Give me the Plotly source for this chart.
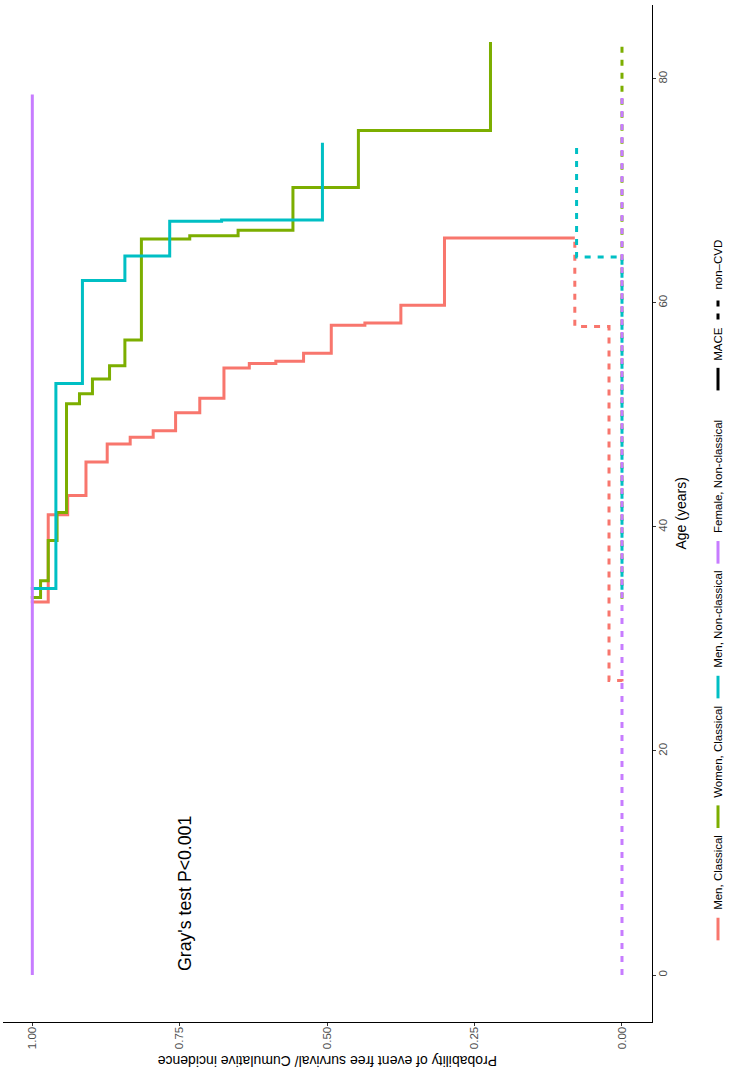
import plotly.graph_objects as go

# ---------------- data ----------------
# event-free survival (MACE, solid) and cumulative incidence (non-CVD, dashed)
men_cl_age = [33.2, 33.3, 41.1, 42.8, 45.8, 47.4, 48.0, 48.6, 50.2, 51.5, 54.2, 54.6, 54.8, 55.5, 58.0, 58.2, 59.8, 65.8]
men_cl_surv = [1.0, 0.973, 0.940, 0.909, 0.873, 0.834, 0.795, 0.757, 0.716, 0.675, 0.632, 0.587, 0.540, 0.493, 0.436, 0.375, 0.301, 0.080]
men_cl_nc_age = [26.2, 26.3, 57.9, 65.8]
men_cl_nc_inc = [0.0, 0.022, 0.080, 0.080]

women_cl_age = [33.6, 33.7, 35.2, 38.8, 41.3, 51.0, 51.9, 53.2, 54.4, 56.7, 65.7, 66.0, 66.5, 70.3, 75.4, 83.3]
women_cl_surv = [1.0, 0.986, 0.973, 0.958, 0.942, 0.920, 0.898, 0.869, 0.843, 0.815, 0.733, 0.651, 0.558, 0.447, 0.223, 0.223]
women_cl_nc_age = [33.6, 83.3]
women_cl_nc_inc = [0.0, 0.0]

men_ncl_age = [34.4, 34.5, 52.8, 62.0, 64.2, 67.3, 67.4, 74.3]
men_ncl_surv = [1.0, 0.960, 0.915, 0.843, 0.767, 0.679, 0.508, 0.508]
men_ncl_nc_age = [34.4, 64.1, 74.3]
men_ncl_nc_inc = [0.0, 0.077, 0.077]

fem_ncl_age = [0.0, 78.6]
fem_ncl_surv = [1.0, 1.0]
fem_ncl_nc_age = [0.0, 78.6]
fem_ncl_nc_inc = [0.0, 0.0]

group_names = ["Men, Classical", "Women, Classical", "Men, Non-classical", "Female, Non-classical"]
group_colors = ["#F8766D", "#7CAE00", "#00BFC4", "#C77CFF"]
type_names = ["MACE", "non\u2013CVD"]

age_ticks = [0, 20, 40, 60, 80]
prob_ticks = [0.0, 0.25, 0.5, 0.75, 1.0]
prob_labels = ["0.00", "0.25", "0.50", "0.75", "1.00"]

# ---------------- figure ----------------
W, H = 730, 1071
ML, MR, MT, MB = 3, 78, 5, 49
PW, PH = W - ML - MR, H - MT - MB

def px(x):
    return (x - ML) / PW

def py(y):
    return (H - MB - y) / PH

FONT = "Liberation Sans, Arial, Helvetica, sans-serif"
DASH = "6px,7px"

fig = go.Figure()
series = [
    (men_cl_age, men_cl_surv, men_cl_nc_age, men_cl_nc_inc),
    (women_cl_age, women_cl_surv, women_cl_nc_age, women_cl_nc_inc),
    (men_ncl_age, men_ncl_surv, men_ncl_nc_age, men_ncl_nc_inc),
    (fem_ncl_age, fem_ncl_surv, fem_ncl_nc_age, fem_ncl_nc_inc),
]
for (a, s, na, ni), name, col in zip(series, group_names, group_colors):
    fig.add_trace(go.Scatter(x=s, y=a, mode="lines", line=dict(color=col, width=3, shape="vh"),
                             name=name, showlegend=False))
    fig.add_trace(go.Scatter(x=ni, y=na, mode="lines",
                             line=dict(color=col, width=3, shape="vh", dash=DASH),
                             name=name + " non-CVD", showlegend=False))

fig.update_layout(
    width=W, height=H,
    margin=dict(l=ML, r=MR, t=MT, b=MB),
    paper_bgcolor="white", plot_bgcolor="white",
    font=dict(family=FONT, color="#4D4D4D", size=11.5),
    showlegend=False,
)
fig.update_xaxes(
    range=[1.0497, -0.0509], tickvals=prob_ticks, ticktext=prob_labels, tickangle=-90,
    showgrid=False, zeroline=False, showline=True, linecolor="black", linewidth=1.3,
    ticks="outside", ticklen=3, tickwidth=1, tickcolor="#333333", ticklabelstandoff=-4,
    tickfont=dict(size=11.5, color="#4D4D4D", family=FONT),
)
fig.update_yaxes(
    range=[-4.196, 86.6], tickvals=age_ticks, tickangle=-90, side="right",
    showgrid=False, zeroline=False, showline=True, linecolor="black", linewidth=1.3,
    ticks="outside", ticklen=3, tickwidth=1, tickcolor="#333333", ticklabelstandoff=-3,
    tickfont=dict(size=11.5, color="#4D4D4D", family=FONT),
)

ann = []
# axis titles (rotated like the picture)
ann.append(dict(text="Age (years)", x=px(680), y=py(513.5), xref="paper", yref="paper",
                showarrow=False, textangle=-90, xanchor="center", yanchor="middle",
                font=dict(size=14, color="black", family=FONT)))
ann.append(dict(text="Probability of event free survival/ Cumulative incidence",
                x=px(327.5), y=py(1061), xref="paper", yref="paper",
                showarrow=False, textangle=180, xanchor="center", yanchor="middle",
                font=dict(size=14, color="black", family=FONT)))
# Gray's test
ann.append(dict(text="Gray's test P<0.001", x=px(185), y=py(894), xref="paper", yref="paper",
                showarrow=False, textangle=-90, xanchor="center", yanchor="middle",
                font=dict(size=17.7, color="black", family=FONT)))

# manual legend (rotated)
LEG_X = 718
KEY = 22.6
G_KT = 7.5
G_IT = 7.5
G_GRP = 30
LFS = 11.5
em = {"Men, Classical": 6.501, "Women, Classical": 8.001, "Men, Non-classical": 8.446,
      "Female, Non-classical": 9.835, "MACE": 2.889, "non\u2013CVD": 4.335}
items = [(n, c, "solid") for n, c in zip(group_names, group_colors)] + \
        [(type_names[0], "black", "solid"), (type_names[1], "black", DASH)]
total = 0
for i, (n, c, d) in enumerate(items):
    total += KEY + G_KT + em[n] * LFS
    if i < len(items) - 1:
        total += G_GRP if i == 3 else G_IT
center = 590
y = center + total / 2
shapes = []
for i, (n, c, d) in enumerate(items):
    shapes.append(dict(type="line", xref="paper", yref="paper", x0=px(LEG_X), x1=px(LEG_X),
                       y0=py(y), y1=py(y - KEY), line=dict(color=c, width=3, dash=d)))
    y -= KEY + G_KT
    w = em[n] * LFS
    ann.append(dict(text=n, x=px(LEG_X), y=py(y - w / 2), xref="paper", yref="paper",
                    showarrow=False, textangle=-90, xanchor="center", yanchor="middle",
                    font=dict(size=LFS, color="black", family=FONT)))
    y -= w
    if i < len(items) - 1:
        y -= G_GRP if i == 3 else G_IT

fig.update_layout(annotations=ann, shapes=shapes)
fig.write_html("out.html", config={"displayModeBar": False},
               post_script="document.body.style.margin='0';document.body.style.overflow='hidden';")
